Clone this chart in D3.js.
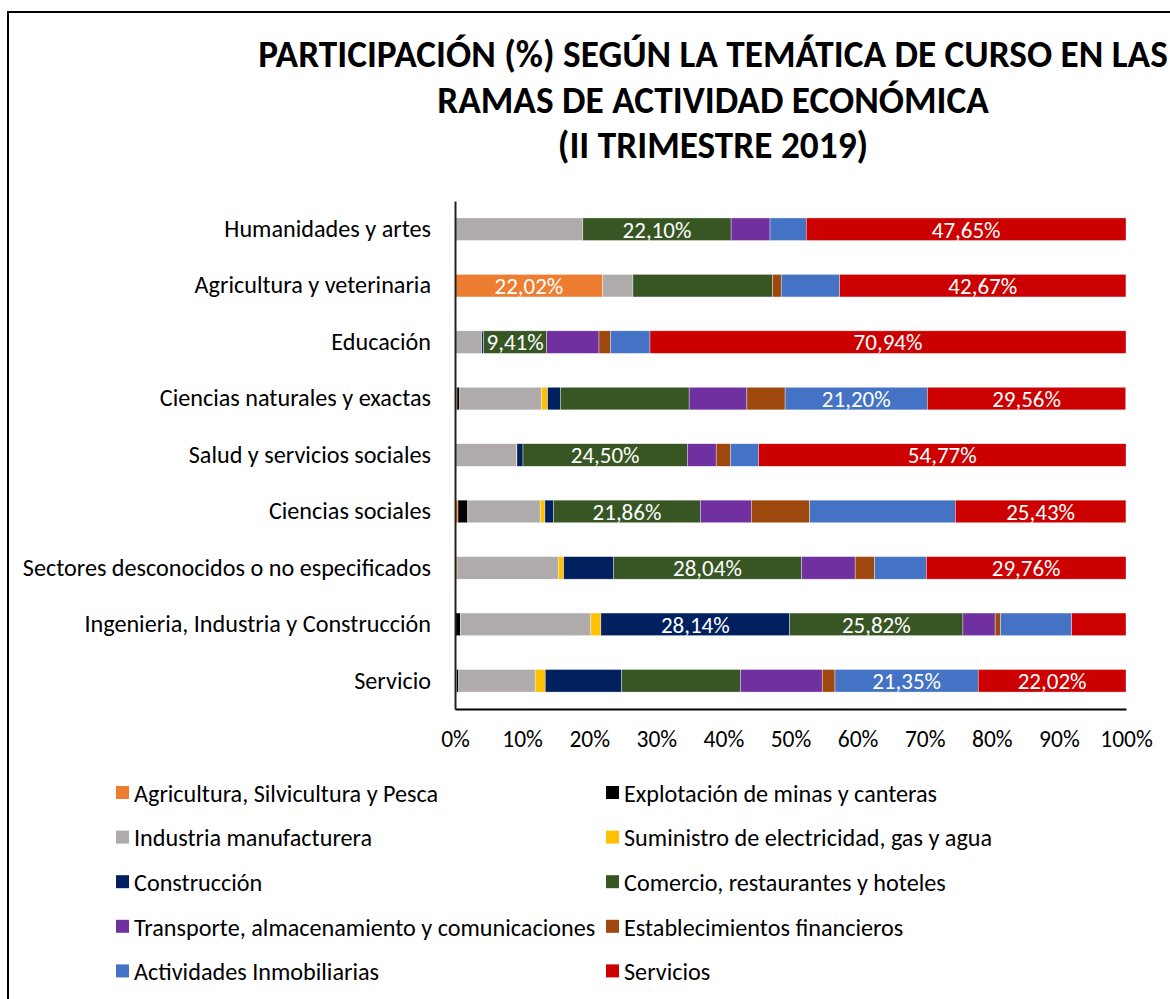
<!DOCTYPE html>
<html>
<head>
<meta charset="utf-8">
<script src="https://cdn.jsdelivr.net/npm/d3@7"></script>
<style>
  body { margin: 0; background: #fff; }
  svg text { font-family: Carlito, Calibri, Lato, sans-serif; }
</style>
</head>
<body>
<svg id="chart" width="1170" height="999"></svg>
<script>
// rows, top to bottom
let categories = [
  "Humanidades y artes",
  "Agricultura y veterinaria",
  "Educación",
  "Ciencias naturales y exactas",
  "Salud y servicios sociales",
  "Ciencias sociales",
  "Sectores desconocidos o no especificados",
  "Ingenieria, Industria y Construcción",
  "Servicio"
];

let seriesNames = [
  "Agricultura, Silvicultura y Pesca",
  "Explotación de minas y canteras",
  "Industria manufacturera",
  "Suministro de electricidad, gas y agua",
  "Construcción",
  "Comercio, restaurantes y hoteles",
  "Transporte, almacenamiento y comunicaciones",
  "Establecimientos financieros",
  "Actividades Inmobiliarias",
  "Servicios"
];

let seriesColors = ["#ED7D31", "#000000", "#AFABAB", "#FFC000", "#002060",
  "#375623", "#7030A0", "#9E480E", "#4472C4", "#CC0000"];

// % per row, same order as categories
let agricultura   = [0, 22.02, 0, 0.3, 0, 0.45, 0.3, 0, 0.25];
let minas         = [0, 0, 0, 0.4, 0, 1.45, 0, 0.8, 0.3];
let industria     = [19.05, 4.5, 4.0, 12.2, 9.13, 10.8, 15.1, 19.44, 11.4];
let electricidad  = [0, 0, 0, 0.9, 0.1, 0.7, 0.8, 1.5, 1.5];
let construccion  = [0, 0, 0.25, 1.9, 0.9, 1.3, 7.4, 28.14, 11.4];
let comercio      = [22.10, 20.8, 9.41, 19.2, 24.50, 21.86, 28.04, 25.82, 17.68];
let transporte    = [5.8, 0, 7.8, 8.6, 4.3, 7.6, 8.0, 4.8, 12.2];
let financieros   = [0, 1.3, 1.7, 5.7, 2.1, 8.7, 2.9, 0.8, 1.9];
let inmobiliarias = [5.4, 8.7, 5.9, 21.20, 4.2, 21.7, 7.7, 10.6, 21.35];
let servicios     = [47.65, 42.67, 70.94, 29.56, 54.77, 25.43, 29.76, 8.1, 22.02];

let tickValues = [0, 10, 20, 30, 40, 50, 60, 70, 80, 90, 100];

let allSeries = [agricultura, minas, industria, electricidad, construccion,
  comercio, transporte, financieros, inmobiliarias, servicios];

let svg = d3.select("#chart");

// outer frame
svg.append("rect")
  .attr("x", 8).attr("y", 12)
  .attr("width", 1170).attr("height", 1000)
  .attr("fill", "none").attr("stroke", "#000").attr("stroke-width", 2);

// title
let titleLines = ["PARTICIPACIÓN (%) SEGÚN LA TEMÁTICA DE CURSO EN LAS",
  "RAMAS DE ACTIVIDAD ECONÓMICA", "(II TRIMESTRE 2019)"];
svg.append("g").selectAll("text")
  .data(titleLines)
  .join("text")
  .attr("x", 713)
  .attr("y", (d, i) => 67 + i * 45.5)
  .attr("text-anchor", "middle")
  .attr("font-size", 37.3)
  .attr("font-weight", "bold")
  .attr("fill", "#000")
  .text(d => d);

let x = d3.scaleLinear().domain([0, 100]).range([455, 1126]);
let y = d3.scaleBand().domain(categories).range([201, 709])
  .paddingInner(0.6).paddingOuter(0.3);

// build rows for stacking
let rows = categories.map(function (c, i) {
  let r = { cat: c };
  seriesNames.forEach(function (s, j) { r[s] = allSeries[j][i]; });
  return r;
});
let stacked = d3.stack().keys(seriesNames)(rows);

let bars = svg.append("g");
stacked.forEach(function (layer, j) {
  bars.append("g")
    .attr("fill", seriesColors[j])
    .selectAll("rect")
    .data(layer.filter(d => d[1] - d[0] > 0))
    .join("rect")
    .attr("x", d => x(d[0]))
    .attr("y", d => y(d.data.cat))
    .attr("width", d => x(d[1]) - x(d[0]))
    .attr("height", y.bandwidth())
    .attr("stroke", "#fff")
    .attr("stroke-width", 0.6)
    .attr("stroke-opacity", 0.6);
});

// data labels: the two biggest shares of each row
let fmt = v => d3.format(".2f")(v).replace(".", ",") + "%";
let labels = [];
categories.forEach(function (c, i) {
  let segs = stacked.map(layer => layer[i]).map((d, j) => ({ d: d, v: d[1] - d[0], cat: c }));
  segs.sort((a, b) => b.v - a.v);
  labels.push(segs[0], segs[1]);
});
svg.append("g").selectAll("text")
  .data(labels)
  .join("text")
  .attr("x", d => (x(d.d[0]) + x(d.d[1])) / 2)
  .attr("y", d => y(d.cat) + y.bandwidth() / 2)
  .attr("dy", "0.36em")
  .attr("text-anchor", "middle")
  .attr("font-size", 23)
  .attr("fill", "#fff")
  .text(d => fmt(d.v));

// axes
let yAxis = svg.append("g")
  .attr("transform", "translate(455,0)")
  .call(d3.axisLeft(y).tickSize(0).tickPadding(24));
yAxis.select(".domain").attr("stroke", "#222").attr("stroke-width", 2);
yAxis.selectAll("text").attr("font-size", 24.2).attr("fill", "#000");

let xAxis = svg.append("g")
  .attr("transform", "translate(0,709)")
  .call(d3.axisBottom(x).tickValues(tickValues).tickSize(0).tickPadding(21)
    .tickFormat(d => d + "%"));
xAxis.select(".domain").attr("stroke", "#000").attr("stroke-width", 2);
xAxis.selectAll("text").attr("font-size", 23.5).attr("fill", "#000");
svg.selectAll(".tick text").attr("font-family", null);

// legend, two columns
let legend = svg.append("g").selectAll("g")
  .data(seriesNames)
  .join("g")
  .attr("transform", (d, i) => "translate(" + (i % 2 === 0 ? 116 : 606) + "," + (793 + Math.floor(i / 2) * 44.6) + ")");
legend.append("rect")
  .attr("x", 0).attr("y", -7)
  .attr("width", 13).attr("height", 13)
  .attr("fill", (d, i) => seriesColors[i]);
legend.append("text")
  .attr("x", 18).attr("dy", "0.36em")
  .attr("font-size", 24.2)
  .attr("fill", "#000")
  .text(d => d);
</script>
</body>
</html>
